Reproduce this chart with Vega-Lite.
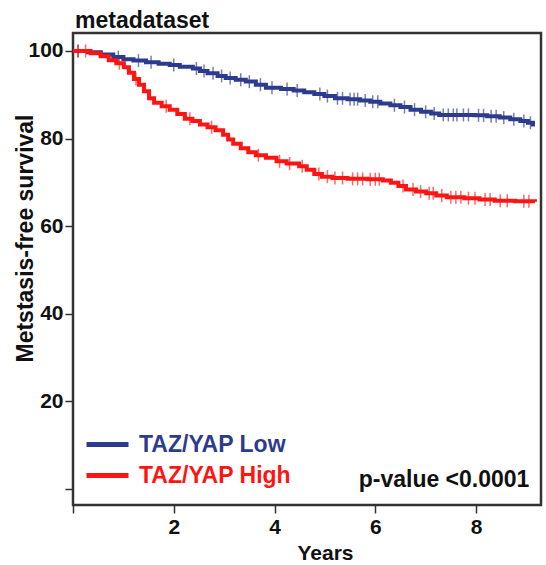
{
  "$schema": "https://vega.github.io/schema/vega-lite/v6.json",
  "autosize": {"type": "none"},
  "width": 468,
  "height": 472,
  "padding": {"left": 73, "top": 33, "right": 5, "bottom": 60},
  "background": "white",
  "config": {
    "view": {"stroke": "#333333", "strokeWidth": 2.5},
    "axis": {
      "labelFont": "Liberation Sans", "labelFontWeight": "bold", "labelFontSize": 21, "labelColor": "#111111",
      "titleFont": "Liberation Sans", "titleFontWeight": "bold", "titleColor": "#111111",
      "domain": false, "grid": false, "tickColor": "#333333", "tickWidth": 1.5, "tickSize": 8
    }
  },
  "title": {"text": "metadataset", "anchor": "start", "frame": "group", "font": "Liberation Sans", "fontWeight": "bold", "fontSize": 23, "color": "#111111", "offset": 0, "dx": 2},
  "datasets": {
    "steps": [
      {"group": "TAZ/YAP Low", "t": 0, "v": 100},
      {"group": "TAZ/YAP Low", "t": 0.3, "v": 99.7},
      {"group": "TAZ/YAP Low", "t": 0.55, "v": 99.2},
      {"group": "TAZ/YAP Low", "t": 0.8, "v": 98.6},
      {"group": "TAZ/YAP Low", "t": 1.0, "v": 98.1},
      {"group": "TAZ/YAP Low", "t": 1.2, "v": 97.8},
      {"group": "TAZ/YAP Low", "t": 1.45, "v": 97.4},
      {"group": "TAZ/YAP Low", "t": 1.7, "v": 97.1},
      {"group": "TAZ/YAP Low", "t": 1.92, "v": 96.8},
      {"group": "TAZ/YAP Low", "t": 2.12, "v": 96.4},
      {"group": "TAZ/YAP Low", "t": 2.38, "v": 96.0},
      {"group": "TAZ/YAP Low", "t": 2.52, "v": 95.4},
      {"group": "TAZ/YAP Low", "t": 2.67, "v": 94.9},
      {"group": "TAZ/YAP Low", "t": 2.87, "v": 94.3},
      {"group": "TAZ/YAP Low", "t": 3.03, "v": 93.8},
      {"group": "TAZ/YAP Low", "t": 3.23, "v": 93.4},
      {"group": "TAZ/YAP Low", "t": 3.43, "v": 93.0},
      {"group": "TAZ/YAP Low", "t": 3.63, "v": 92.3},
      {"group": "TAZ/YAP Low", "t": 3.83, "v": 91.6},
      {"group": "TAZ/YAP Low", "t": 4.13, "v": 91.3},
      {"group": "TAZ/YAP Low", "t": 4.38, "v": 91.0},
      {"group": "TAZ/YAP Low", "t": 4.59, "v": 90.6},
      {"group": "TAZ/YAP Low", "t": 4.79, "v": 90.2},
      {"group": "TAZ/YAP Low", "t": 4.99, "v": 89.7},
      {"group": "TAZ/YAP Low", "t": 5.2, "v": 89.2},
      {"group": "TAZ/YAP Low", "t": 5.45, "v": 89.0},
      {"group": "TAZ/YAP Low", "t": 5.7, "v": 88.7},
      {"group": "TAZ/YAP Low", "t": 5.9, "v": 88.4},
      {"group": "TAZ/YAP Low", "t": 6.1, "v": 88.0},
      {"group": "TAZ/YAP Low", "t": 6.3, "v": 87.6},
      {"group": "TAZ/YAP Low", "t": 6.5, "v": 87.2},
      {"group": "TAZ/YAP Low", "t": 6.7, "v": 86.6},
      {"group": "TAZ/YAP Low", "t": 6.91, "v": 86.1},
      {"group": "TAZ/YAP Low", "t": 7.11, "v": 85.7},
      {"group": "TAZ/YAP Low", "t": 7.27, "v": 85.4},
      {"group": "TAZ/YAP Low", "t": 7.97, "v": 85.3},
      {"group": "TAZ/YAP Low", "t": 8.22, "v": 85.1},
      {"group": "TAZ/YAP Low", "t": 8.47, "v": 84.8},
      {"group": "TAZ/YAP Low", "t": 8.68, "v": 84.4},
      {"group": "TAZ/YAP Low", "t": 8.88, "v": 84.0},
      {"group": "TAZ/YAP Low", "t": 9.03, "v": 83.6},
      {"group": "TAZ/YAP Low", "t": 9.13, "v": 83.2},
      {"group": "TAZ/YAP Low", "t": 9.17, "v": 83.2},
      {"group": "TAZ/YAP High", "t": 0, "v": 100},
      {"group": "TAZ/YAP High", "t": 0.35, "v": 99.5},
      {"group": "TAZ/YAP High", "t": 0.55, "v": 98.8},
      {"group": "TAZ/YAP High", "t": 0.71, "v": 97.9},
      {"group": "TAZ/YAP High", "t": 0.86, "v": 97.2},
      {"group": "TAZ/YAP High", "t": 1.01, "v": 96.3},
      {"group": "TAZ/YAP High", "t": 1.11, "v": 95.0},
      {"group": "TAZ/YAP High", "t": 1.21, "v": 93.6},
      {"group": "TAZ/YAP High", "t": 1.31, "v": 92.3},
      {"group": "TAZ/YAP High", "t": 1.41, "v": 90.8},
      {"group": "TAZ/YAP High", "t": 1.51, "v": 89.2},
      {"group": "TAZ/YAP High", "t": 1.61, "v": 88.2},
      {"group": "TAZ/YAP High", "t": 1.76, "v": 87.4},
      {"group": "TAZ/YAP High", "t": 1.92, "v": 86.6},
      {"group": "TAZ/YAP High", "t": 2.07, "v": 85.6},
      {"group": "TAZ/YAP High", "t": 2.22, "v": 84.5},
      {"group": "TAZ/YAP High", "t": 2.37, "v": 84.0},
      {"group": "TAZ/YAP High", "t": 2.52, "v": 83.2},
      {"group": "TAZ/YAP High", "t": 2.67, "v": 82.6},
      {"group": "TAZ/YAP High", "t": 2.83, "v": 81.9},
      {"group": "TAZ/YAP High", "t": 2.98, "v": 80.9},
      {"group": "TAZ/YAP High", "t": 3.08, "v": 79.8},
      {"group": "TAZ/YAP High", "t": 3.18, "v": 78.8},
      {"group": "TAZ/YAP High", "t": 3.33, "v": 77.8},
      {"group": "TAZ/YAP High", "t": 3.48, "v": 76.9},
      {"group": "TAZ/YAP High", "t": 3.63, "v": 76.2},
      {"group": "TAZ/YAP High", "t": 3.83, "v": 75.6},
      {"group": "TAZ/YAP High", "t": 4.04, "v": 74.8},
      {"group": "TAZ/YAP High", "t": 4.24, "v": 74.3},
      {"group": "TAZ/YAP High", "t": 4.49, "v": 73.7},
      {"group": "TAZ/YAP High", "t": 4.64, "v": 72.9},
      {"group": "TAZ/YAP High", "t": 4.79, "v": 71.9},
      {"group": "TAZ/YAP High", "t": 4.94, "v": 71.3},
      {"group": "TAZ/YAP High", "t": 5.15, "v": 71.0},
      {"group": "TAZ/YAP High", "t": 5.45, "v": 70.8},
      {"group": "TAZ/YAP High", "t": 5.85, "v": 70.7},
      {"group": "TAZ/YAP High", "t": 6.15, "v": 70.4},
      {"group": "TAZ/YAP High", "t": 6.31, "v": 69.9},
      {"group": "TAZ/YAP High", "t": 6.46, "v": 69.2},
      {"group": "TAZ/YAP High", "t": 6.61, "v": 68.4},
      {"group": "TAZ/YAP High", "t": 6.81, "v": 67.9},
      {"group": "TAZ/YAP High", "t": 7.01, "v": 67.5},
      {"group": "TAZ/YAP High", "t": 7.21, "v": 67.0},
      {"group": "TAZ/YAP High", "t": 7.42, "v": 66.6},
      {"group": "TAZ/YAP High", "t": 7.77, "v": 66.4},
      {"group": "TAZ/YAP High", "t": 8.07, "v": 66.1},
      {"group": "TAZ/YAP High", "t": 8.37, "v": 65.8},
      {"group": "TAZ/YAP High", "t": 8.78, "v": 65.7},
      {"group": "TAZ/YAP High", "t": 9.17, "v": 65.6}
    ],
    "censor": [
      {"group": "TAZ/YAP Low", "t": 0.1, "v": 100},
      {"group": "TAZ/YAP Low", "t": 0.9, "v": 98.6},
      {"group": "TAZ/YAP Low", "t": 1.3, "v": 97.8},
      {"group": "TAZ/YAP Low", "t": 1.55, "v": 97.4},
      {"group": "TAZ/YAP Low", "t": 2.0, "v": 96.8},
      {"group": "TAZ/YAP Low", "t": 2.45, "v": 96.0},
      {"group": "TAZ/YAP Low", "t": 2.6, "v": 95.4},
      {"group": "TAZ/YAP Low", "t": 2.78, "v": 94.9},
      {"group": "TAZ/YAP Low", "t": 2.95, "v": 94.3},
      {"group": "TAZ/YAP Low", "t": 3.12, "v": 93.8},
      {"group": "TAZ/YAP Low", "t": 3.33, "v": 93.4},
      {"group": "TAZ/YAP Low", "t": 3.5, "v": 93.0},
      {"group": "TAZ/YAP Low", "t": 3.72, "v": 92.3},
      {"group": "TAZ/YAP Low", "t": 3.95, "v": 91.6},
      {"group": "TAZ/YAP Low", "t": 4.25, "v": 91.3},
      {"group": "TAZ/YAP Low", "t": 4.45, "v": 91.0},
      {"group": "TAZ/YAP Low", "t": 4.9, "v": 90.2},
      {"group": "TAZ/YAP Low", "t": 5.05, "v": 89.7},
      {"group": "TAZ/YAP Low", "t": 5.25, "v": 89.2},
      {"group": "TAZ/YAP Low", "t": 5.35, "v": 89.2},
      {"group": "TAZ/YAP Low", "t": 5.5, "v": 89.0},
      {"group": "TAZ/YAP Low", "t": 5.58, "v": 89.0},
      {"group": "TAZ/YAP Low", "t": 5.65, "v": 89.0},
      {"group": "TAZ/YAP Low", "t": 5.8, "v": 88.7},
      {"group": "TAZ/YAP Low", "t": 5.95, "v": 88.4},
      {"group": "TAZ/YAP Low", "t": 6.05, "v": 88.4},
      {"group": "TAZ/YAP Low", "t": 6.38, "v": 87.6},
      {"group": "TAZ/YAP Low", "t": 6.58, "v": 87.2},
      {"group": "TAZ/YAP Low", "t": 6.78, "v": 86.6},
      {"group": "TAZ/YAP Low", "t": 7.0, "v": 86.1},
      {"group": "TAZ/YAP Low", "t": 7.17, "v": 85.7},
      {"group": "TAZ/YAP Low", "t": 7.35, "v": 85.4},
      {"group": "TAZ/YAP Low", "t": 7.45, "v": 85.4},
      {"group": "TAZ/YAP Low", "t": 7.55, "v": 85.4},
      {"group": "TAZ/YAP Low", "t": 7.62, "v": 85.4},
      {"group": "TAZ/YAP Low", "t": 7.75, "v": 85.4},
      {"group": "TAZ/YAP Low", "t": 7.85, "v": 85.4},
      {"group": "TAZ/YAP Low", "t": 8.05, "v": 85.3},
      {"group": "TAZ/YAP Low", "t": 8.15, "v": 85.3},
      {"group": "TAZ/YAP Low", "t": 8.3, "v": 85.1},
      {"group": "TAZ/YAP Low", "t": 8.4, "v": 85.1},
      {"group": "TAZ/YAP Low", "t": 8.55, "v": 84.8},
      {"group": "TAZ/YAP Low", "t": 8.75, "v": 84.4},
      {"group": "TAZ/YAP Low", "t": 8.95, "v": 84.0},
      {"group": "TAZ/YAP Low", "t": 9.08, "v": 83.6},
      {"group": "TAZ/YAP High", "t": 0.1, "v": 100},
      {"group": "TAZ/YAP High", "t": 0.25, "v": 100},
      {"group": "TAZ/YAP High", "t": 0.92, "v": 97.2},
      {"group": "TAZ/YAP High", "t": 1.25, "v": 93.6},
      {"group": "TAZ/YAP High", "t": 1.85, "v": 87.4},
      {"group": "TAZ/YAP High", "t": 2.32, "v": 84.5},
      {"group": "TAZ/YAP High", "t": 2.75, "v": 82.6},
      {"group": "TAZ/YAP High", "t": 3.68, "v": 76.2},
      {"group": "TAZ/YAP High", "t": 4.1, "v": 74.8},
      {"group": "TAZ/YAP High", "t": 4.3, "v": 74.3},
      {"group": "TAZ/YAP High", "t": 4.55, "v": 73.7},
      {"group": "TAZ/YAP High", "t": 4.88, "v": 71.9},
      {"group": "TAZ/YAP High", "t": 5.05, "v": 71.3},
      {"group": "TAZ/YAP High", "t": 5.2, "v": 71.0},
      {"group": "TAZ/YAP High", "t": 5.35, "v": 71.0},
      {"group": "TAZ/YAP High", "t": 5.55, "v": 70.8},
      {"group": "TAZ/YAP High", "t": 5.65, "v": 70.8},
      {"group": "TAZ/YAP High", "t": 5.75, "v": 70.8},
      {"group": "TAZ/YAP High", "t": 5.9, "v": 70.7},
      {"group": "TAZ/YAP High", "t": 6.0, "v": 70.7},
      {"group": "TAZ/YAP High", "t": 6.08, "v": 70.7},
      {"group": "TAZ/YAP High", "t": 6.55, "v": 69.2},
      {"group": "TAZ/YAP High", "t": 6.75, "v": 68.4},
      {"group": "TAZ/YAP High", "t": 6.9, "v": 67.9},
      {"group": "TAZ/YAP High", "t": 7.07, "v": 67.5},
      {"group": "TAZ/YAP High", "t": 7.15, "v": 67.5},
      {"group": "TAZ/YAP High", "t": 7.32, "v": 67.0},
      {"group": "TAZ/YAP High", "t": 7.5, "v": 66.6},
      {"group": "TAZ/YAP High", "t": 7.6, "v": 66.6},
      {"group": "TAZ/YAP High", "t": 7.7, "v": 66.6},
      {"group": "TAZ/YAP High", "t": 7.85, "v": 66.4},
      {"group": "TAZ/YAP High", "t": 7.98, "v": 66.4},
      {"group": "TAZ/YAP High", "t": 8.18, "v": 66.1},
      {"group": "TAZ/YAP High", "t": 8.28, "v": 66.1},
      {"group": "TAZ/YAP High", "t": 8.48, "v": 65.8},
      {"group": "TAZ/YAP High", "t": 8.62, "v": 65.8},
      {"group": "TAZ/YAP High", "t": 8.95, "v": 65.7},
      {"group": "TAZ/YAP High", "t": 9.05, "v": 65.7}
    ],
    "note": [{"t": 9.06, "v": 0.5, "label": "p-value <0.0001"}]
  },
  "encoding": {
    "x": {"field": "t", "type": "quantitative",
      "scale": {"domain": [0, 9.29], "nice": false, "zero": false},
      "axis": {"values": [0, 2, 4, 6, 8], "labelExpr": "datum.value == 0 ? '' : datum.label", "labelPadding": 3,
        "title": "Years", "titleFontSize": 21, "titleBaseline": "alphabetic", "titleY": 54, "titleX": 252}},
    "y": {"field": "v", "type": "quantitative",
      "scale": {"domain": [-3.65, 104.1], "nice": false, "zero": false},
      "axis": {"values": [0, 20, 40, 60, 80, 100], "labelExpr": "datum.value == 0 ? '' : datum.label", "labelPadding": 2,
        "title": "Metstasis-free survival", "titleFontSize": 23, "titleAngle": -90, "titleBaseline": "alphabetic", "titleAlign": "center", "titleX": -41, "titleY": 205}}
  },
  "layer": [
    {
      "data": {"name": "censor"},
      "mark": {"type": "tick", "orient": "vertical", "size": 13, "thickness": 1.5, "opacity": 0.65},
      "encoding": {
        "color": {"field": "group", "type": "nominal",
          "scale": {"domain": ["TAZ/YAP Low", "TAZ/YAP High"], "range": ["#2d3b8e", "#ff1414"]},
          "legend": {"orient": "none", "legendX": 17, "legendY": 394, "title": null, "padding": 0,
            "symbolType": "M-1.4,0H1.4", "symbolSize": 900, "symbolStrokeWidth": 5, "labelOffset": 14,
            "labelFont": "Liberation Sans", "labelFontWeight": "bold", "labelFontSize": 23, "rowPadding": 1,
            "encode": {"labels": {"update": {"fill": {"scale": "color", "field": "value"}}}}}
        }
      }
    },
    {
      "data": {"name": "steps"},
      "mark": {"type": "line", "interpolate": "step-after", "strokeWidth": 4},
      "encoding": {
        "color": {"field": "group", "type": "nominal",
          "scale": {"domain": ["TAZ/YAP Low", "TAZ/YAP High"], "range": ["#2d3b8e", "#ff1414"]},
          "legend": {"orient": "none", "legendX": 17, "legendY": 394, "title": null, "padding": 0,
            "symbolType": "M-1.4,0H1.4", "symbolSize": 900, "symbolStrokeWidth": 5, "labelOffset": 14,
            "labelFont": "Liberation Sans", "labelFontWeight": "bold", "labelFontSize": 23, "rowPadding": 1,
            "encode": {"labels": {"update": {"fill": {"scale": "color", "field": "value"}}}}}
        }
      }
    },
    {
      "data": {"name": "note"},
      "mark": {"type": "text", "align": "right", "baseline": "alphabetic", "font": "Liberation Sans", "fontWeight": "bold", "fontSize": 23, "color": "#111111"},
      "encoding": {"text": {"field": "label"}}
    }
  ]
}
